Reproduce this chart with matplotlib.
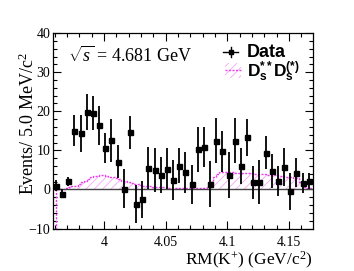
import numpy as np
import matplotlib
matplotlib.use('Agg')
import matplotlib.pyplot as plt
from matplotlib.patches import Rectangle
from matplotlib.ticker import MultipleLocator

plt.rcParams['font.family'] = 'Liberation Serif'
plt.rcParams['mathtext.fontset'] = 'custom'
plt.rcParams['mathtext.rm'] = 'Liberation Serif'
plt.rcParams['mathtext.it'] = 'Liberation Serif:italic'
plt.rcParams['mathtext.bf'] = 'Liberation Sans:bold'
plt.rcParams['hatch.linewidth'] = 0.6

# data points, 5 MeV bins
x_first = 3.961
bin_w = 0.005
counts = [1.0, -1.1, 2.1, 15.0, 14.4, 19.8, 19.6, 16.4, 10.6, 12.6, 7.1, 0.25, 14.6, -3.7,
          -2.5, 5.5, 5.0, 3.7, 5.3, 2.4, 6.1, 4.4, 1.35, 10.3, 10.9, 1.45, 12.5, 9.8,
          3.7, 12.5, 6.0, 13.3, 1.8, 1.9, 9.4, 4.8, 2.1, 5.8, -0.5, 4.3, 1.7, 2.1]
errors = [1.4, 1.1, 1.15, 4.0, 4.7, 4.6, 4.4, 4.9, 3.8, 5.5, 4.2, 5.1, 4.2, 4.9,
          4.7, 5.4, 5.6, 4.6, 5.3, 5.1, 4.4, 5.3, 5.0, 5.7, 5.2, 5.8, 5.8, 5.2,
          6.0, 5.7, 4.7, 4.7, 4.3, 5.7, 4.2, 4.4, 3.8, 4.8, 4.7, 3.7, 2.6, 2.1]

# Ds** Ds(*) background shape, 2.5 MeV bins
bg_start = 3.961
bg_w = 0.0025
bg = [0, 0, 0.1, 0.3, 0.6, 0.8, 1.0, 1.3, 1.8, 2.3, 2.8, 3.1, 3.4, 3.5, 3.6, 3.6,
      3.5, 3.3, 3.1, 2.9, 2.6, 2.3, 2.1, 1.9, 1.7, 1.5, 1.3, 1.15, 1.0, 0.9, 0.8, 0.7,
      0.65, 0.6, 0.55, 0.55, 0.5, 0.5, 0.45, 0.45, 0.45, 0.4, 0.4, 0.4, 0.4, 0.4, 0.45,
      0.5, 0.5, 0.6, 1.8, 3.2, 4.0, 4.4, 4.5, 4.5, 4.4, 4.4, 4.3, 4.3, 4.2, 4.2, 4.1,
      4.1, 4.0, 4.0, 3.9, 3.9, 3.8, 3.8, 3.7, 3.6, 3.5, 3.4, 3.3, 3.2, 3.1, 3.0, 3.0,
      1.8, 0.6, 0.4, 0.3]

x = x_first + bin_w * np.arange(len(counts))
edges = bg_start + bg_w * np.arange(len(bg) + 1)
bg_y = np.append(bg, bg[-1])

fig = plt.figure(figsize=(3.54, 2.71), dpi=100)
ax = fig.add_axes([0.150, 0.155, 0.734, 0.723])

mag = '#ee3cee'
ax.fill_between(edges, 0, bg_y, step='post', facecolor='none', edgecolor='#f6a6f6',
                hatch='////', linewidth=0)
ax.step(edges, bg_y, where='post', color=mag, lw=1.0, ls=(0, (1.5, 1)))
ax.plot([bg_start, bg_start], [0, -10], color=mag, lw=1.0, ls=(0, (1.5, 1)))

ax.axhline(0, color='#444444', lw=1.0)

ax.errorbar(x, counts, yerr=errors, fmt='s', color='black', ms=3.6, elinewidth=1.3,
            capsize=0)

ax.set_xlim(3.9587, 4.1694)
ax.set_ylim(-10.1, 40)
ax.xaxis.set_major_locator(MultipleLocator(0.05))
ax.xaxis.set_minor_locator(MultipleLocator(0.01))
ax.yaxis.set_major_locator(MultipleLocator(10))
ax.yaxis.set_minor_locator(MultipleLocator(2))
ax.set_xticks([4.0, 4.05, 4.1, 4.15])
ax.set_xticklabels(['4', '4.05', '4.1', '4.15'])
ax.tick_params(which='both', direction='in', top=True, right=True, labelsize=10, width=0.8)
ax.tick_params(which='major', length=6)
ax.tick_params(which='minor', length=3)
ax.tick_params(axis='x', pad=5)
ax.tick_params(axis='y', pad=2)
for s in ax.spines.values():
    s.set_linewidth(0.9)

ax.text(1.0, -0.186, r'RM(K$^{+}$) (GeV/c$^{2}$)', transform=ax.transAxes,
        ha='right', va='baseline', fontsize=12.5)
ax.text(-0.096, 0.905, r'Events/ 5.0 MeV/c$^{2}$', transform=ax.transAxes,
        ha='center', va='top', rotation=90, fontsize=13)
ax.text(0.058, 0.852, r'$\sqrt{s}$ = 4.681 GeV', transform=ax.transAxes,
        ha='left', va='baseline', fontsize=13)

# legend
ax.plot([0.654, 0.712], [0.903, 0.903], color='black', lw=1.0, transform=ax.transAxes)
ax.plot([0.683, 0.683], [0.876, 0.930], color='black', lw=1.0, transform=ax.transAxes)
ax.plot([0.683], [0.903], 's', color='black', ms=2.5, transform=ax.transAxes)
ax.text(0.746, 0.903, 'Data', transform=ax.transAxes, ha='left', va='center',
        fontsize=13, fontweight='bold', family='Liberation Sans')
ax.add_patch(Rectangle((0.662, 0.770), 0.061, 0.077, transform=ax.transAxes,
                       facecolor='none', edgecolor='#f6a6f6', hatch='////', lw=0))
ax.plot([0.662, 0.723], [0.809, 0.809], color=mag, lw=1.0, ls=(0, (1.5, 1)),
        transform=ax.transAxes)
ax.text(0.746, 0.776, r'$\mathbf{D}_{\mathbf{s}}^{\mathbf{**}}\mathbf{D}_{\mathbf{s}}^{\mathbf{(*)}}$',
        transform=ax.transAxes, ha='left', va='baseline', fontsize=12.5)

fig.savefig('out.png', dpi=100)
